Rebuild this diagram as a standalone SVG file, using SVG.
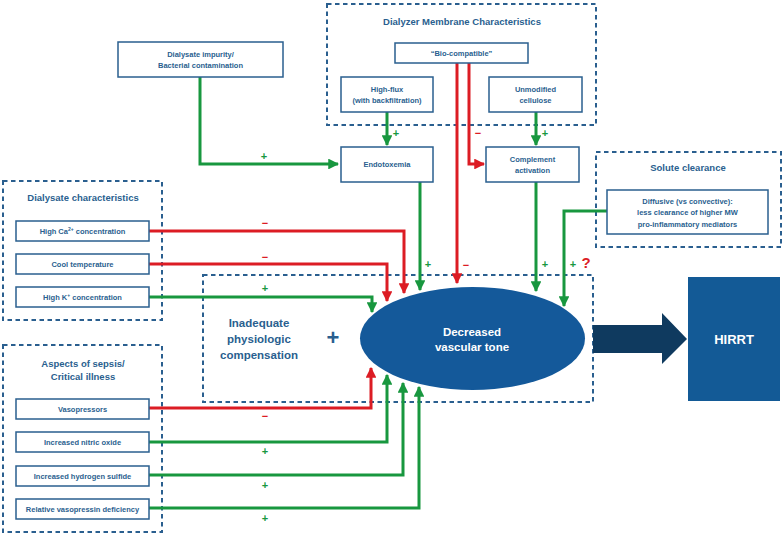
<svg xmlns="http://www.w3.org/2000/svg" width="784" height="535" viewBox="0 0 784 535">
<defs>
<style>
.dash{fill:none;stroke:#2a5f8f;stroke-width:2;stroke-dasharray:4.5,3.5}
.box{fill:#fff;stroke:#2a5f8f;stroke-width:1.5}
.t{font-family:"Liberation Sans",Arial,sans-serif;font-weight:bold;fill:#2a5f8f;text-anchor:middle}
.s{font-size:7.5px}
.h{font-size:9.5px}
.g{fill:none;stroke:#18973f;stroke-width:3}
.r{fill:none;stroke:#dc1c24;stroke-width:3}
.lbl{font-family:"Liberation Sans",Arial,sans-serif;font-weight:bold;font-size:11px;text-anchor:middle}
.lg{fill:#18973f}
.lr{fill:#dc1c24}
</style>
<marker id="ag" viewBox="0 0 10 10" refX="9" refY="5" markerWidth="3.6" markerHeight="3.6" orient="auto" markerUnits="strokeWidth"><path d="M0,0L10,5L0,10z" fill="#18973f"/></marker>
<marker id="ar" viewBox="0 0 10 10" refX="9" refY="5" markerWidth="3.6" markerHeight="3.6" orient="auto" markerUnits="strokeWidth"><path d="M0,0L10,5L0,10z" fill="#dc1c24"/></marker>
</defs>
<rect width="784" height="535" fill="#fff"/>

<g id="groups">
<rect id="dialyzer-group" class="dash" x="327" y="4" width="269" height="121"/>
<rect id="solute-group" class="dash" x="596" y="152" width="185" height="95"/>
<rect id="dialysate-group" class="dash" x="3" y="181" width="159" height="139"/>
<rect id="sepsis-group" class="dash" x="3" y="345" width="159" height="187"/>
<rect id="center-group" class="dash" x="203" y="275" width="390" height="127"/>
<text class="t h" x="462" y="24.5">Dialyzer Membrane Characteristics</text>
<text class="t h" x="688" y="170.5">Solute clearance</text>
<text class="t h" x="83" y="200.5">Dialysate characteristics</text>
<text class="t h" x="83" y="366.5">Aspects of sepsis/</text>
<text class="t h" x="83" y="379.5">Critical illness</text>
</g>

<g id="connectors">
<path class="g" d="M200,77V164H338" marker-end="url(#ag)"/>
<path class="g" d="M387,112V145" marker-end="url(#ag)"/>
<path class="g" d="M536,112V145" marker-end="url(#ag)"/>
<path class="r" d="M469,63V164H484" marker-end="url(#ar)"/>
<path class="r" d="M457,63V283" marker-end="url(#ar)"/>
<path class="g" d="M420,182V290" marker-end="url(#ag)"/>
<path class="g" d="M536,182V291" marker-end="url(#ag)"/>
<path class="g" d="M607,211H564V306" marker-end="url(#ag)"/>
<path class="r" d="M149,231H404V293" marker-end="url(#ar)"/>
<path class="r" d="M149,264H387V301" marker-end="url(#ar)"/>
<path class="g" d="M149,297H372V312" marker-end="url(#ag)"/>
<path class="r" d="M149,408H371V368" marker-end="url(#ar)"/>
<path class="g" d="M149,442H387V375" marker-end="url(#ag)"/>
<path class="g" d="M149,475H403V383" marker-end="url(#ag)"/>
<path class="g" d="M149,508H419V387" marker-end="url(#ag)"/>
<path d="M593,325H662V313L687,339L662,364V353H593Z" fill="#0f3a5f"/>
<text class="lbl lg" x="264" y="160">+</text>
<text class="lbl lg" x="396" y="137">+</text>
<text class="lbl lg" x="545" y="137">+</text>
<text class="lbl lr" x="478" y="137">−</text>
<text class="lbl lr" x="265" y="227">−</text>
<text class="lbl lr" x="265" y="261">−</text>
<text class="lbl lg" x="265" y="292">+</text>
<text class="lbl lg" x="428" y="268">+</text>
<text class="lbl lr" x="466" y="269">−</text>
<text class="lbl lg" x="545" y="268">+</text>
<text class="lbl lg" x="573" y="268">+</text>
<text class="lbl lr" x="586" y="268" style="font-size:15px">?</text>
<text class="lbl lr" x="265" y="420">−</text>
<text class="lbl lg" x="265" y="455">+</text>
<text class="lbl lg" x="265" y="489">+</text>
<text class="lbl lg" x="265" y="522">+</text>
</g>

<g id="n-impurity"><rect class="box" x="118" y="42" width="165" height="35"/>
<text class="t s" x="200.5" y="57">Dialysate impurity/</text><text class="t s" x="200.5" y="68">Bacterial contamination</text></g>
<g id="n-biocompatible"><rect class="box" x="395" y="43" width="133" height="20"/>
<text class="t s" x="461.5" y="56">“Bio-compatible”</text></g>
<g id="n-highflux"><rect class="box" x="341" y="77" width="92" height="35"/>
<text class="t s" x="387" y="91.5">High-flux</text><text class="t s" x="387" y="102.5">(with backfiltration)</text></g>
<g id="n-cellulose"><rect class="box" x="489" y="77" width="93" height="35"/>
<text class="t s" x="535.5" y="91.5">Unmodified</text><text class="t s" x="535.5" y="102.5">cellulose</text></g>
<g id="n-endotoxemia"><rect class="box" x="341" y="147" width="92" height="35"/>
<text class="t s" x="387" y="167">Endotoxemia</text></g>
<g id="n-complement"><rect class="box" x="486" y="147" width="93" height="35"/>
<text class="t s" x="532.5" y="162">Complement</text><text class="t s" x="532.5" y="173">activation</text></g>
<g id="n-diffusive"><rect class="box" x="607" y="190" width="161" height="44"/>
<text class="t s" x="687.5" y="204">Diffusive (vs convective):</text><text class="t s" x="687.5" y="215">less clearance of higher MW</text><text class="t s" x="687.5" y="227">pro-inflammatory mediators</text></g>
<g id="n-ca"><rect class="box" x="16" y="221" width="133" height="20"/>
<text class="t s" x="82.5" y="233.5">High Ca<tspan dy="-3" font-size="5">2+</tspan><tspan dy="3"> concentration</tspan></text></g>
<g id="n-cool"><rect class="box" x="16" y="254" width="133" height="20"/>
<text class="t s" x="82.5" y="266.5">Cool temperature</text></g>
<g id="n-k"><rect class="box" x="16" y="287" width="133" height="20"/>
<text class="t s" x="82.5" y="299.5">High K<tspan dy="-3" font-size="5">+</tspan><tspan dy="3"> concentration</tspan></text></g>
<g id="n-vasopressors"><rect class="box" x="16" y="399" width="133" height="20"/>
<text class="t s" x="82.5" y="411.5">Vasopressors</text></g>
<g id="n-no"><rect class="box" x="16" y="432" width="133" height="20"/>
<text class="t s" x="82.5" y="444.5">Increased nitric oxide</text></g>
<g id="n-h2s"><rect class="box" x="16" y="466" width="133" height="20"/>
<text class="t s" x="82.5" y="478.5">Increased hydrogen sulfide</text></g>
<g id="n-vasopressin"><rect class="box" x="16" y="499" width="133" height="20"/>
<text class="t s" x="82.5" y="511.5">Relative vasopressin deficiency</text></g>

<g id="n-inadequate">
<text class="t" style="font-size:11.5px" x="259" y="327">Inadequate</text>
<text class="t" style="font-size:11.5px" x="259" y="343">physiologic</text>
<text class="t" style="font-size:11.5px" x="259" y="359">compensation</text>
<text class="t" style="font-size:22px" x="333" y="345">+</text>
</g>
<g id="n-tone">
<ellipse cx="472.5" cy="338.5" rx="112.5" ry="51.5" fill="#14599a"/>
<text class="t" style="font-size:11.5px;fill:#fff" x="472" y="336">Decreased</text>
<text class="t" style="font-size:11.5px;fill:#fff" x="472" y="351">vascular tone</text>
</g>
<g id="n-hirrt">
<rect x="688" y="277" width="92" height="124" fill="#135a96"/>
<text class="t" style="font-size:13px;fill:#fff" x="734" y="343.5">HIRRT</text>
</g>
</svg>
